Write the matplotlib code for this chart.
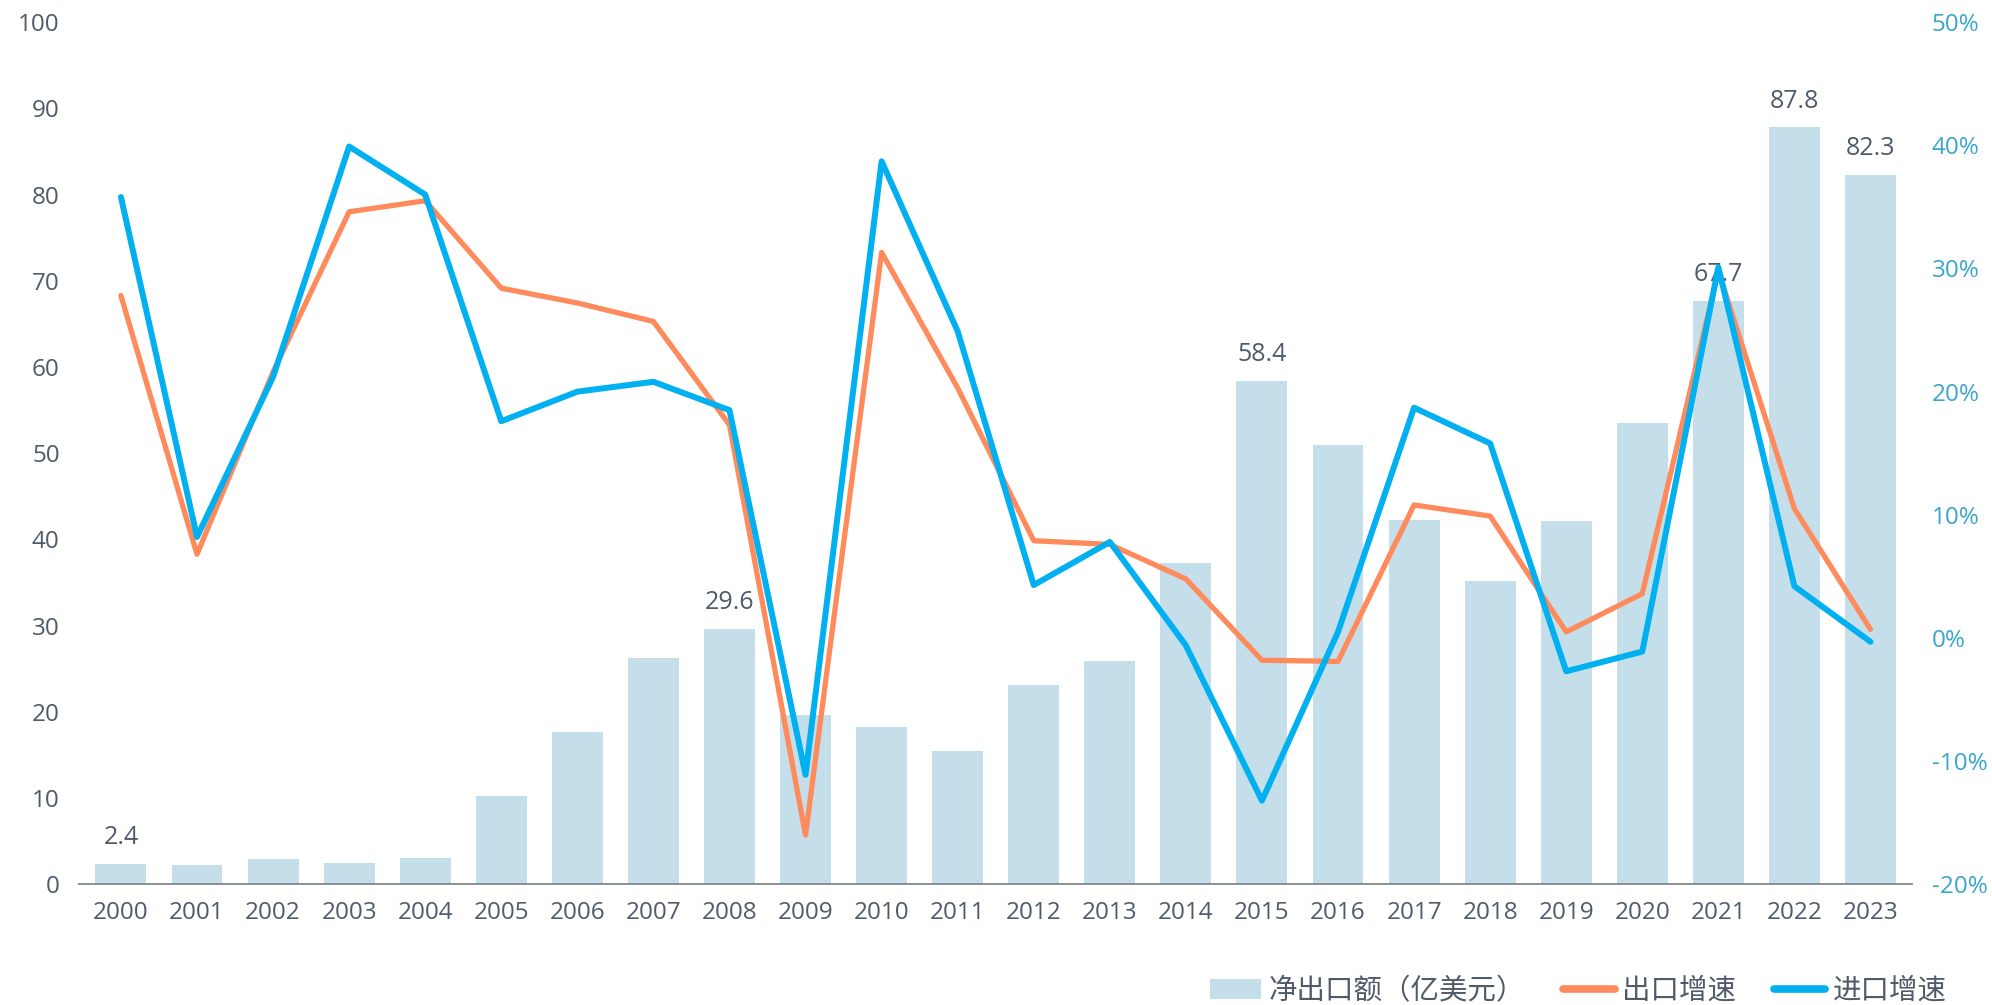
import matplotlib
matplotlib.use("Agg")
import matplotlib.pyplot as plt
from matplotlib.ticker import FuncFormatter, MultipleLocator
from matplotlib.lines import Line2D
from matplotlib.patches import Patch

plt.rcParams['font.family'] = ['Open Sans', 'Noto Sans CJK SC', 'DejaVu Sans']

years = [str(y) for y in range(2000, 2024)]
net_export = [2.4, 2.2, 2.9, 2.5, 3.1, 10.2, 17.7, 26.2, 29.6, 19.6, 18.3, 15.5,
              23.1, 25.9, 37.3, 58.4, 51.0, 42.3, 35.2, 42.1, 53.5, 67.7, 87.8, 82.3]
export_growth = [27.8, 6.8, 21.6, 34.6, 35.5, 28.4, 27.2, 25.7, 17.3, -16.0, 31.3, 20.3,
                 7.9, 7.6, 4.8, -1.8, -1.9, 10.8, 9.9, 0.5, 3.6, 29.8, 10.5, 0.7]
import_growth = [35.8, 8.2, 21.2, 39.9, 36.0, 17.6, 20.0, 20.8, 18.5, -11.1, 38.7, 24.9,
                 4.3, 7.8, -0.6, -13.2, 0.5, 18.7, 15.8, -2.7, -1.1, 30.1, 4.2, -0.3]
labeled_years = ['2000', '2008', '2015', '2021', '2022', '2023']

series_names = ['净出口额（亿美元）', '出口增速', '进口增速']

bar_color = '#C5DFEA'
orange = '#FF8A5B'
blue = '#00B0F0'
text_color = '#4F5B69'
right_color = '#3AA6CC'

fig = plt.figure(figsize=(19.92, 10.05), dpi=100)
ax = fig.add_axes([0.0397, 0.120, 0.9203, 0.858])
x = list(range(len(years)))
ax.bar(x, net_export, width=0.67, color=bar_color, zorder=1)
for i, (yr, v) in enumerate(zip(years, net_export)):
    if yr in labeled_years:
        ax.text(i, v + 1.6, f'{v:.1f}', ha='center', va='bottom', fontsize=18, color=text_color, zorder=2)

ax.set_ylim(0, 100)
ax.set_xlim(-0.55, 23.55)
ax.yaxis.set_major_locator(MultipleLocator(10))
ax.set_xticks(x)
ax.set_xticklabels(years)
ax.tick_params(axis='both', length=0, labelsize=17.5, colors=text_color)
ax.tick_params(axis='x', pad=12)
ax.tick_params(axis='y', pad=14)
for s in ['left', 'right', 'top']:
    ax.spines[s].set_visible(False)
ax.spines['bottom'].set_color('#7F8790')
ax.spines['bottom'].set_linewidth(1.3)

ax2 = ax.twinx()
ax2.plot(x, export_growth, color=orange, lw=3.8, solid_capstyle='round', solid_joinstyle='round', zorder=3)
ax2.plot(x, import_growth, color=blue, lw=4.3, solid_capstyle='round', solid_joinstyle='round', zorder=4)
ax2.set_ylim(-20, 50)
ax2.yaxis.set_major_locator(MultipleLocator(10))
ax2.yaxis.set_major_formatter(FuncFormatter(lambda v, p: f'{v:.0f}%'))
ax2.tick_params(axis='y', length=0, labelsize=17.5, colors=right_color, pad=14)
for s in ['left', 'right', 'top', 'bottom']:
    ax2.spines[s].set_visible(False)

handles = [Patch(facecolor=bar_color, edgecolor='none'),
           Line2D([0], [0], color=orange, lw=5.5, solid_capstyle='round'),
           Line2D([0], [0], color=blue, lw=5.5, solid_capstyle='round')]
leg = fig.legend(handles, series_names, loc='center right', bbox_to_anchor=(0.99, 0.013),
                 ncol=3, frameon=False, fontsize=20.5, handlelength=1.8, handletextpad=0.25,
                 columnspacing=1.35)
for t in leg.get_texts():
    t.set_color(text_color)

fig.savefig('out.png', dpi=100)
